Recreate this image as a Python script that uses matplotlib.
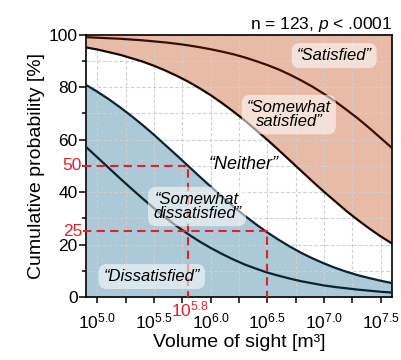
import matplotlib
matplotlib.use('Agg')
import matplotlib.pyplot as plt
from matplotlib.ticker import MultipleLocator, FixedLocator

plt.rcParams['font.family'] = ['Liberation Sans', 'DejaVu Sans']
plt.rcParams['mathtext.fontset'] = 'custom'
plt.rcParams['mathtext.rm'] = 'Liberation Sans'
plt.rcParams['mathtext.it'] = 'Liberation Sans:italic'

# log10 volume of sight [m3]
log_volume = [4.9, 5.0, 5.1, 5.2, 5.3, 5.4, 5.5, 5.6, 5.7, 5.8, 5.9, 6.0, 6.1, 6.2,
              6.3, 6.4, 6.5, 6.6, 6.7, 6.8, 6.9, 7.0, 7.1, 7.2, 7.3, 7.4, 7.5, 7.6]
# cumulative probability [%]
p_dissatisfied = [57.2, 53.2, 49.2, 45.2, 41.3, 37.5, 33.8, 30.3, 27.0, 24.0, 21.2, 18.7, 16.4, 14.3,
                  12.4, 10.8, 9.3, 8.1, 7.0, 6.0, 5.2, 4.4, 3.8, 3.3, 2.8, 2.4, 2.0, 1.7]
p_somewhat_dissatisfied = [80.8, 78.2, 75.4, 72.3, 69.0, 65.5, 61.8, 57.9, 54.0, 50.0, 46.0, 42.1, 38.2, 34.5,
                           31.0, 27.7, 24.6, 21.8, 19.2, 16.8, 14.7, 12.8, 11.1, 9.6, 8.3, 7.2, 6.2, 5.3]
p_neither = [95.1, 94.3, 93.3, 92.3, 91.0, 89.7, 88.1, 86.3, 84.3, 82.1, 79.6, 76.9, 73.9, 70.7,
             67.3, 63.6, 59.9, 56.0, 52.0, 48.0, 44.0, 40.1, 36.4, 32.7, 29.3, 26.1, 23.1, 20.4]
p_somewhat_satisfied = [99.0, 98.8, 98.6, 98.4, 98.1, 97.8, 97.4, 97.0, 96.5, 95.9, 95.2, 94.4, 93.5, 92.5,
                        91.3, 89.9, 88.4, 86.7, 84.7, 82.5, 80.1, 77.4, 74.5, 71.3, 68.0, 64.4, 60.6, 56.8]

x_ticks = [5.0, 5.5, 6.0, 6.5, 7.0, 7.5]
x_tick_labels = ['$10^{5.0}$', '$10^{5.5}$', '$10^{6.0}$', '$10^{6.5}$', '$10^{7.0}$', '$10^{7.5}$']

labels = ['\u201cSatisfied\u201d', '\u201cSomewhat\nsatisfied\u201d', '\u201cNeither\u201d',
          '\u201cSomewhat\ndissatisfied\u201d', '\u201cDissatisfied\u201d']
label_x = [7.09, 6.69, 6.29, 5.88, 5.48]
label_y = [92, 69.5, 50.3, 34.5, 7.8]
label_size = [12, 12, 13, 12, 12]

marker_x = [5.8, 6.5]
marker_y = [50, 25]

BLUE = '#abc9d6'
SALMON = '#e8bba7'
RED = '#e3202a'

fig = plt.figure(figsize=(4.02, 3.6), dpi=100)
ax = fig.add_axes([0.214, 0.175, 0.761, 0.729])

ax.fill_between(log_volume, 0, p_somewhat_dissatisfied, color=BLUE, lw=0, zorder=0.1)
ax.fill_between(log_volume, p_neither, 100, color=SALMON, lw=0, zorder=0.1)

ax.plot(log_volume, p_dissatisfied, color='#0d2230', lw=1.6, zorder=3)
ax.plot(log_volume, p_somewhat_dissatisfied, color='#0d2230', lw=1.6, zorder=3)
ax.plot(log_volume, p_neither, color='#1a0805', lw=1.6, zorder=3)
ax.plot(log_volume, p_somewhat_satisfied, color='#3b0e06', lw=1.6, zorder=3)

# red reading lines
x0 = 4.87
for mx, my in zip(marker_x, marker_y):
    ax.plot([x0, mx, mx], [my, my, 0], color=RED, lw=1.5, ls=(0, (4, 2.5)),
            zorder=4, clip_on=False)
    ax.text(x0 - 0.005, my, str(my), color=RED, fontsize=12.5, ha='right', va='center')
ax.text(marker_x[0] + 0.02, -1.0, '$10^{5.8}$', color=RED, fontsize=12.5, ha='center', va='top')

for t, lx, ly, fs in zip(labels, label_x, label_y, label_size):
    box = None
    if 'Neither' not in t:
        box = dict(boxstyle='round,pad=0.3,rounding_size=0.5', fc='white', ec='none', alpha=0.55)
    ax.text(lx, ly, t, fontsize=fs, style='italic', ha='center', va='center',
            linespacing=0.95, bbox=box, zorder=5)

ax.set_xlim(4.9, 7.6)
ax.set_ylim(0, 100)
ax.set_xticks(x_ticks)
ax.set_xticklabels(x_tick_labels, fontsize=12.5)
ax.xaxis.set_minor_locator(FixedLocator([5.25, 5.75, 6.25, 6.75, 7.25]))
ax.yaxis.set_major_locator(MultipleLocator(20))
ax.yaxis.set_minor_locator(MultipleLocator(10))
ax.tick_params(axis='y', labelsize=12.5)
ax.tick_params(which='both', direction='out', length=4, width=1.1)
ax.tick_params(axis='x', which='major', pad=6.5)
ax.tick_params(axis='y', which='major', length=5, pad=1)
ax.tick_params(axis='y', which='minor', length=3)

ax.set_axisbelow(True)
ax.grid(True, which='both', color='#cfcfcf', lw=0.8, ls=(0, (3, 2)))
for s in ax.spines.values():
    s.set_linewidth(1.2)

ax.set_xlabel('Volume of sight [m\u00b3]', fontsize=14, labelpad=2)
ax.set_ylabel('Cumulative probability [%]', fontsize=14, labelpad=3)
ax.set_title('n = 123, $p$ < .0001', fontsize=12.5, loc='right', pad=4)

fig.savefig('out.png', dpi=100)
